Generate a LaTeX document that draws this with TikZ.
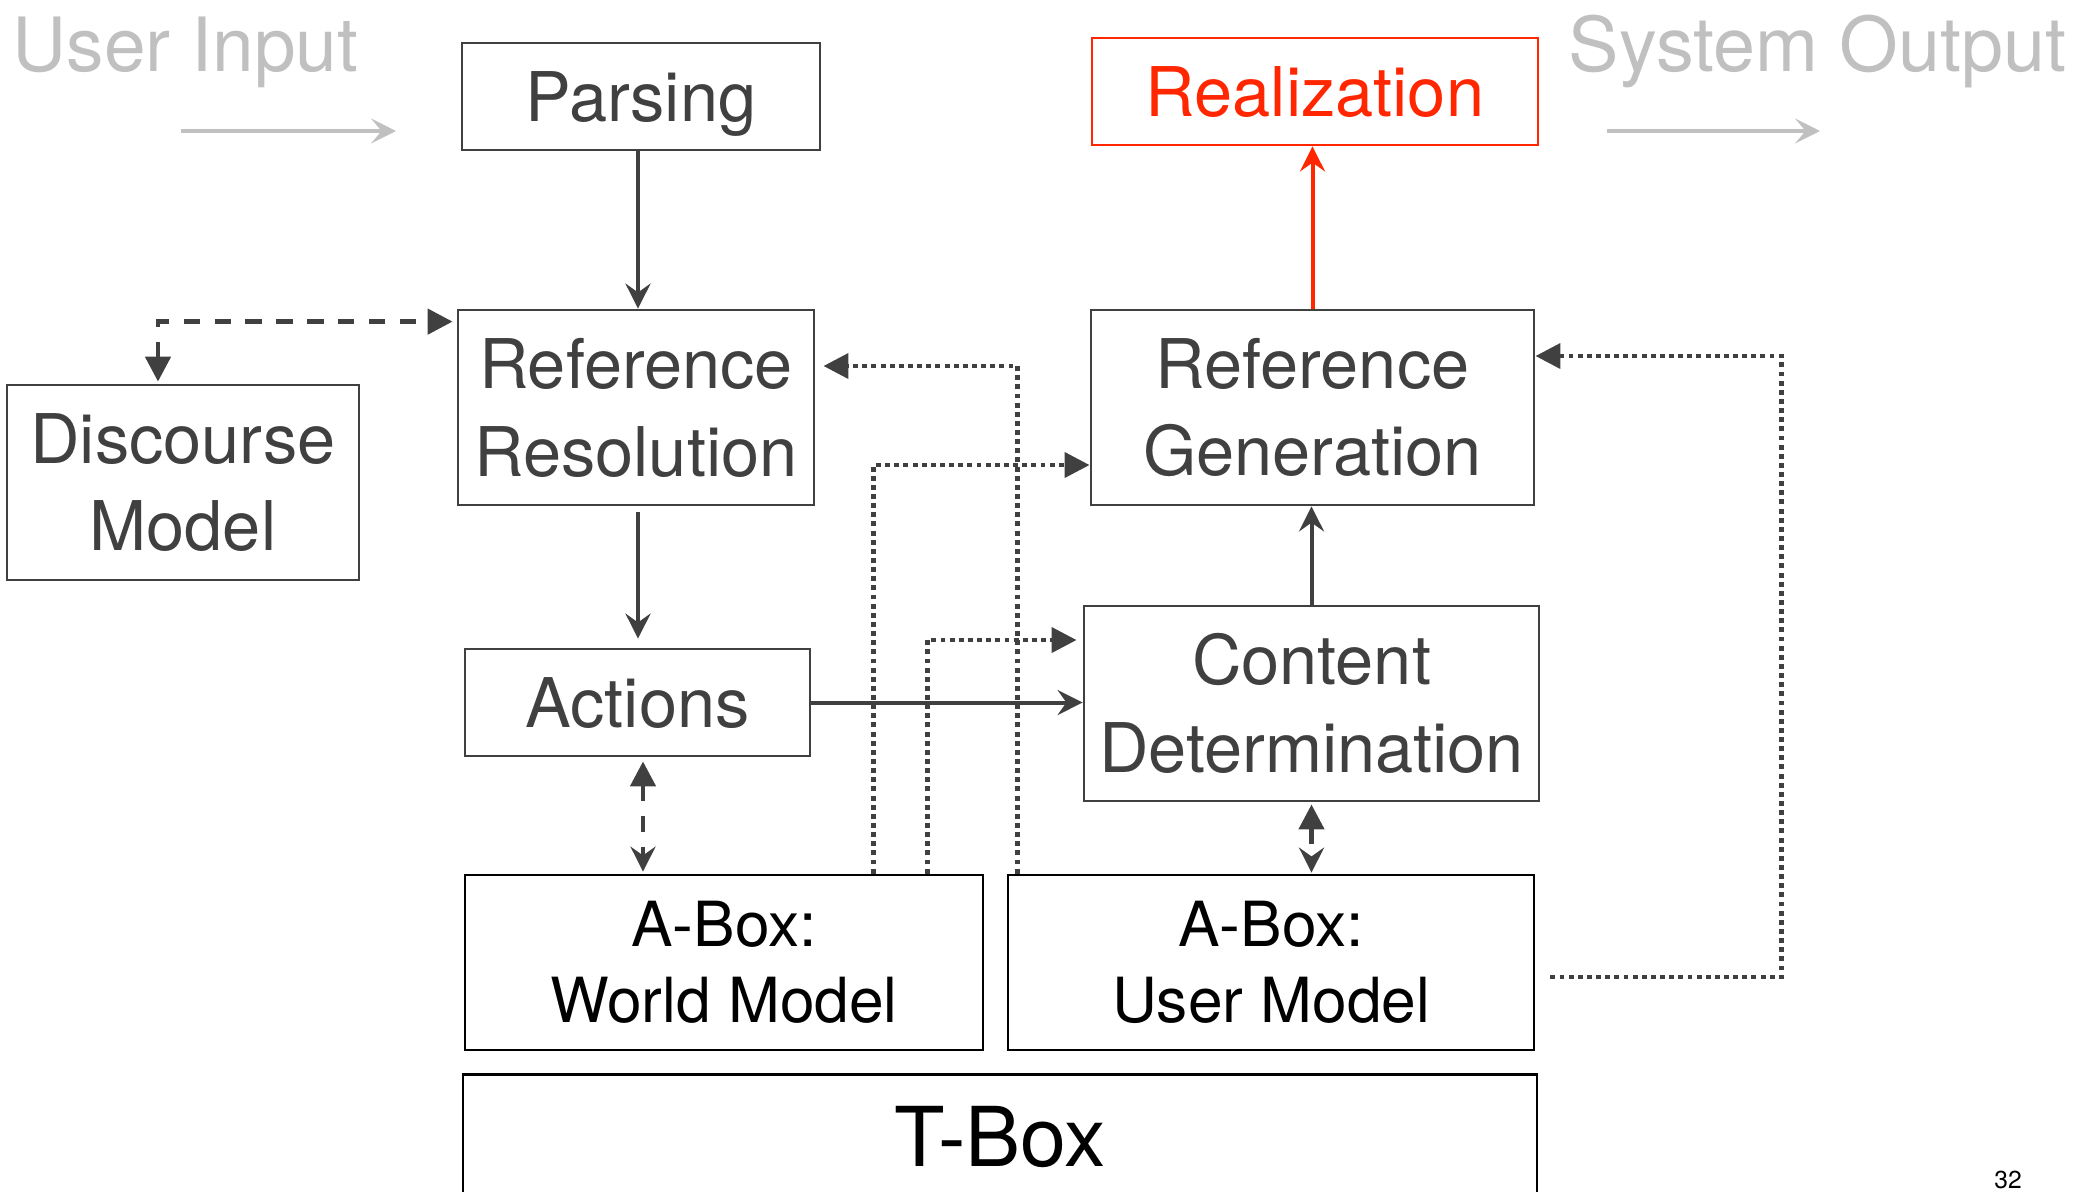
\documentclass[tikz,border=0pt]{standalone}
\usepackage{fontspec}
\setmainfont{TeX Gyre Heros}
\usetikzlibrary{arrows.meta}
\definecolor{dgray}{RGB}{64,64,64}
\definecolor{lgray}{RGB}{192,192,192}
\definecolor{hotred}{RGB}{255,38,0}
\newcommand{\stagefont}{\fontsize{19.5}{25}\selectfont}
\newcommand{\storefont}{\fontsize{17.7}{21.6}\selectfont}

\begin{document}
\begin{tikzpicture}
\tikzstyle{every node}+=[inner sep=0pt]
\tikzstyle{stage}=[draw=dgray, text=dgray, line width=0.8pt, align=center, font=\stagefont]
\tikzstyle{oneline}=[text height=14pt, text depth=0pt]
\tikzstyle{store}=[draw=black, text=black, line width=0.8pt, align=center, font=\storefont]
\tikzstyle{flow}=[dgray, line width=1.15pt, -{Stealth[length=7.1pt,width=7.1pt,inset=2.5pt]}]
\tikzstyle{lookup}=[dgray, line width=1.35pt, dash pattern=on 4.6pt off 4.2pt, {Triangle[length=7.1pt,width=7.1pt]}-{Stealth[length=7.1pt,width=7.1pt,inset=2.5pt]}]
\tikzstyle{feed}=[dgray, line width=1.4pt, dash pattern=on 1.4pt off 1.2pt, -{Triangle[length=7.1pt,width=7pt]}]
\tikzstyle{hint}=[lgray, line width=1.15pt, -{Stealth[length=7.1pt,width=7.1pt,inset=3pt]}]
\useasboundingbox (0,0) rectangle (20.76,-11.91);

\node[text=lgray, font=\fontsize{21.3}{26}\selectfont, anchor=base west] (inlabel) at (0.12,-0.71) {User Input};
\node[text=lgray, font=\fontsize{21.5}{26}\selectfont, anchor=base east] (outlabel) at (20.67,-0.71) {System Output};
\coordinate (inA) at (1.81,-1.31);
\coordinate (inB) at (3.96,-1.31);
\coordinate (outA) at (16.07,-1.31);
\coordinate (outB) at (18.20,-1.31);
\draw[hint] (inA) -- (inB);
\draw[hint] (outA) -- (outB);

\node[stage, oneline, minimum width=3.58cm, minimum height=1.07cm] (parse) at (6.41,-0.965) {Parsing};
\node[stage, oneline, draw=hotred, text=hotred, minimum width=4.46cm, minimum height=1.07cm] (realize) at (13.15,-0.915) {Realization};
\node[stage, minimum width=3.56cm, minimum height=1.95cm] (refres) at (6.36,-4.075) {Reference\\Resolution};
\node[stage, minimum width=4.43cm, minimum height=1.95cm] (refgen) at (13.125,-4.075) {Reference\\Generation};
\node[stage, minimum width=3.52cm, minimum height=1.95cm] (discourse) at (1.83,-4.825) {Discourse\\Model};
\node[stage, oneline, minimum width=3.45cm, minimum height=1.07cm] (actions) at (6.375,-7.025) {Actions};
\node[stage, minimum width=4.55cm, minimum height=1.95cm] (content) at (13.115,-7.035) {Content\\Determination};
\node[store, minimum width=5.18cm, minimum height=1.75cm] (worldm) at (7.24,-9.625) {A-Box:\\World Model};
\node[store, minimum width=5.26cm, minimum height=1.75cm] (userm) at (12.71,-9.625) {A-Box:\\User Model};
\node[store, font=\fontsize{23.5}{28}\selectfont, text height=16.9pt, text depth=0pt, minimum width=10.74cm, minimum height=1.24cm, anchor=north] (tbox) at (10.0,-10.73) {T-Box};
\node[font=\fontsize{7}{8}\selectfont, anchor=base] (pagenum) at (20.08,-11.88) {32};

\draw[flow] ([xshift=-0.03cm]parse.south) -- ([xshift=-0.03cm]parse.south |- refres.north);
\draw[flow, shorten <=0.06cm, shorten >=0.09cm] ([xshift=0.02cm]refres.south) -- ([xshift=0.02cm]refres.south |- actions.north);
\draw[flow] (actions.east) -- (actions.east -| content.west);
\draw[flow] (content.north) -- (content.north |- refgen.south);
\draw[flow, hotred] (refgen.north) -- (refgen.north |- realize.south);

\draw[lookup, shorten <=0.04cm, shorten >=0.02cm] ([xshift=0.055cm]actions.south) -- ([xshift=0.055cm]actions.south |- worldm.north);
\draw[lookup, shorten <=0.02cm, shorten >=0.01cm] (content.south) -- (content.south |- userm.north);
\draw[lookup, {Triangle[length=7.1pt,width=7.1pt]}-{Triangle[length=7.1pt,width=7.1pt]}, shorten <=0.02cm, shorten >=0.04cm] ([xshift=-0.25cm]discourse.north) |- ([yshift=-0.13cm]refres.north west);

\draw[feed, shorten >=0.08cm] ([xshift=0.11cm]userm.north west) |- ([yshift=0.415cm]refres.east);
\draw[feed] ([xshift=-1.11cm]worldm.north east) |- ([yshift=-0.575cm]refgen.west);
\draw[feed, shorten >=0.06cm] ([xshift=-0.57cm]worldm.north east) |- ([yshift=0.635cm]content.west);
\draw[feed] ([xshift=0.15cm,yshift=-0.145cm]userm.east) -- ++(2.31,0) |- ([yshift=0.515cm]refgen.east);
\end{tikzpicture}
\end{document}
